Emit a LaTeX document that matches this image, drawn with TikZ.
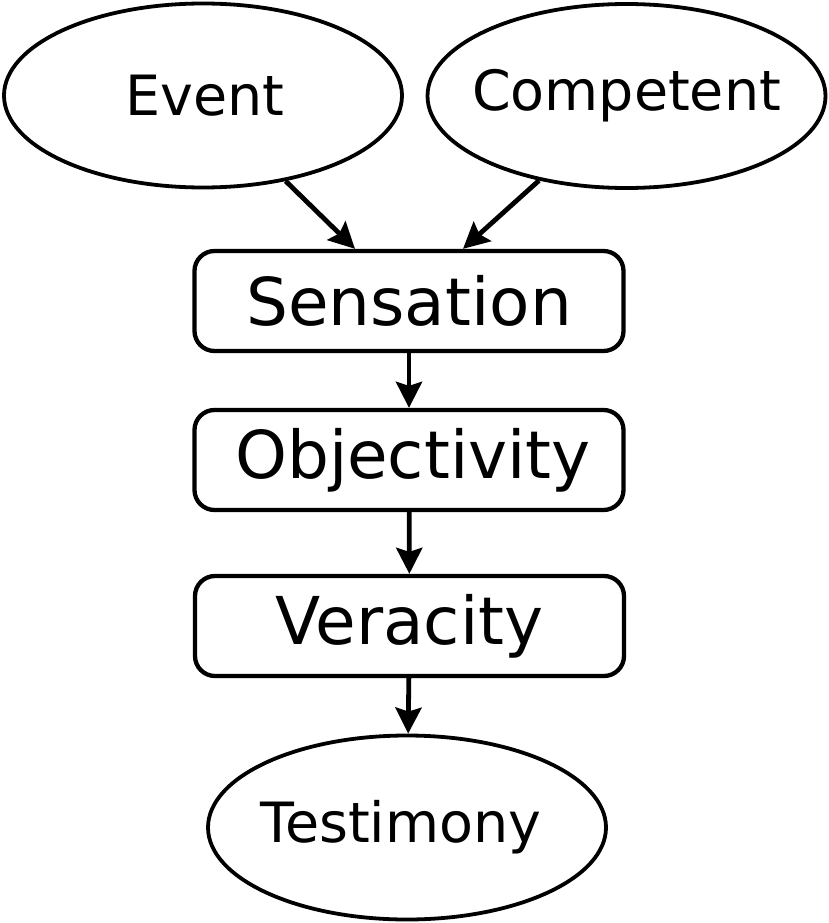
\documentclass[tikz,border=0pt]{standalone}
\usepackage{fontspec}
\setmainfont{DejaVu Sans}
\usetikzlibrary{shapes.geometric,arrows.meta}
\begin{document}
\begin{tikzpicture}[x=1pt,y=-1pt,
  oval/.style={draw=black,line width=3.8pt,ellipse,inner sep=0pt,minimum width=398pt,minimum height=184pt},
  ovaltext/.style={font=\fontsize{55.5}{60}\selectfont},
  stepbox/.style={draw=black,line width=4.3pt,rectangle,rounded corners=20pt,inner sep=0pt,minimum width=429pt,minimum height=100pt,font=\fontsize{66}{72}\selectfont},
  link/.style={line width=4.8pt,-{Stealth[length=26pt,width=26pt,inset=4pt]}}]
\useasboundingbox (0,0) rectangle (829,923);
\node[oval] (event) at (203,95.5) {};
\node[ovaltext] (eventtxt) at ([xshift=2pt]event.center) {Event};
\node[oval] (comp) at (626.5,96) {};
\node[ovaltext] (comptxt) at (comp.center) {Competent};
\node[stepbox] (sens) at (409,301) {};
\node (senstxt) at (sens.center) [font=\fontsize{66}{72}\selectfont] {Sensation};
\node[stepbox] (obj) at (409,460) {};
\node (objtxt) at ([xshift=4pt]obj.center) [font=\fontsize{66}{72}\selectfont] {Objectivity};
\node[stepbox] (ver) at (409.5,626) {};
\node (vertxt) at (ver.center) [font=\fontsize{66}{72}\selectfont] {Veracity};
\node[oval] (test) at (407,827.5) {};
\node[ovaltext] (testtxt) at ([xshift=-6pt]test.center) {Testimony};
\draw[link] (event.314) -- ([xshift=-54pt]sens.north);
\draw[link] (comp.224) -- ([xshift=54pt]sens.north);
\draw[link] (sens) -- (obj);
\draw[link] (obj) -- (ver);
\draw[link] (ver) -- (test);
\end{tikzpicture}
\end{document}
